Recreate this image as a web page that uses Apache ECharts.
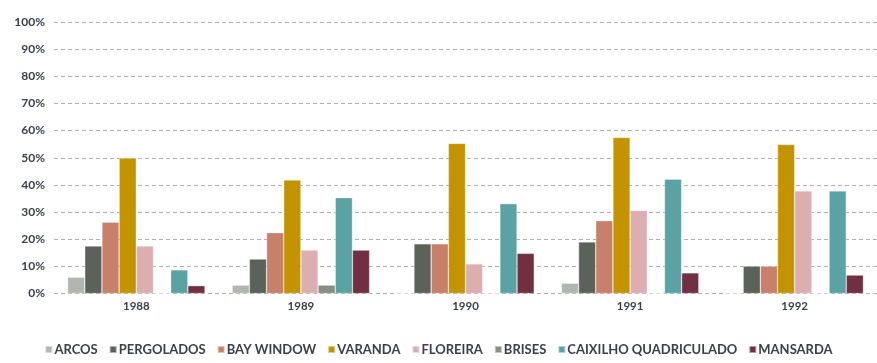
<!DOCTYPE html>
<html><head><meta charset="utf-8">
<script src="https://cdn.jsdelivr.net/npm/echarts@6/dist/echarts.min.js"></script>
<style>html,body{margin:0;padding:0;background:#fff}#c{width:877px;height:363px}</style>
</head><body><div id="c"></div>
<script>
const categories = ['1988','1989','1990','1991','1992'];
const seriesNames = ['ARCOS','PERGOLADOS','BAY WINDOW','VARANDA','FLOREIRA','BRISES','CAIXILHO QUADRICULADO','MANSARDA'];
const arcos = [6, 3.1, 0, 3.8, 0];
const pergolados = [17.5, 12.7, 18.3, 19.0, 10.1];
const bayWindow = [26.3, 22.4, 18.3, 26.8, 10.1];
const varanda = [49.9, 41.8, 55.3, 57.5, 54.9];
const floreira = [17.5, 16.0, 10.9, 30.6, 37.8];
const brises = [0, 3.1, 0, 0, 0];
const caixilho = [8.7, 35.3, 33.1, 42.1, 37.8];
const mansarda = [2.9, 16.0, 14.8, 7.6, 6.8];
const yTicks = [0,10,20,30,40,50,60,70,80,90,100];

const colors = ['#b0b7b0','#5a6259','#c8806a','#c49400','#dcaeb0','#868f84','#5ba2a4','#722f42'];
const values = [arcos, pergolados, bayWindow, varanda, floreira, brises, caixilho, mansarda];

const chart = echarts.init(document.getElementById('c'));
chart.setOption({
  animation: false,
  color: colors,
  grid: {left: 54, right: -6, top: 22, bottom: 69.5},
  legend: {
    data: seriesNames,
    bottom: 2,
    left: 'center',
    icon: 'rect',
    itemWidth: 7, itemHeight: 7, itemGap: 11,
    textStyle: {fontFamily: 'Lato', fontWeight: 'bold', fontSize: 13, color: '#3b3f4c', padding: [0,0,0,-3]}
  },
  xAxis: {
    type: 'category', data: categories,
    axisLine: {show: false}, axisTick: {show: false},
    axisLabel: {fontFamily: 'Lato', fontWeight: 'bold', fontSize: 11.5, color: '#3b3f4c', margin: 7}
  },
  yAxis: {
    type: 'value', min: yTicks[0], max: yTicks[yTicks.length-1], interval: 10,
    axisLabel: {formatter: '{value}%', fontFamily: 'Lato', fontWeight: 'bold', fontSize: 12, color: '#3b3f4c', margin: 9},
    splitLine: {lineStyle: {color: '#b0b0b0', type: [4,3], width: 1}}
  },
  series: seriesNames.map((n, i) => ({
    name: n, type: 'bar', data: values[i],
    barGap: '0%', barCategoryGap: '16.5%',
    itemStyle: {color: colors[i], borderColor: 'rgba(255,255,255,0.5)', borderWidth: 0.6}
  }))
});
</script></body></html>
